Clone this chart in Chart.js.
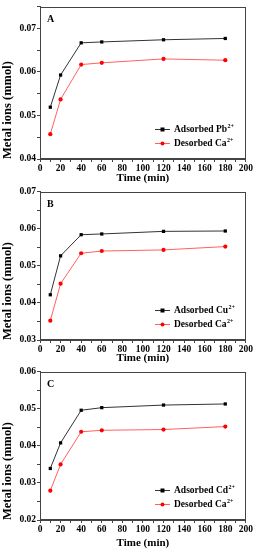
<!DOCTYPE html>
<html>
<head>
<meta charset="utf-8">
<script src="https://cdn.jsdelivr.net/npm/chart.js@4.4.0/dist/chart.umd.min.js"></script>
<style>
  body { margin: 0; background: #fff; width: 254px; height: 550px; overflow: hidden; position: relative; }
  .panel { position: absolute; left: 0; width: 254px; }
</style>
</head>
<body>
<div class="panel" style="top:0;height:185px"><canvas id="chartA"></canvas></div>
<div class="panel" style="top:185px;height:180px"><canvas id="chartB"></canvas></div>
<div class="panel" style="top:365px;height:185px"><canvas id="chartC"></canvas></div>
<script>
// time points (min)
const times = [10, 20, 40, 60, 120, 180];

// A: Pb / Ca
const pbAdsorbed  = [0.0519, 0.0593, 0.0667, 0.0669, 0.0674, 0.0677];
const caDesorbedA = [0.0457, 0.0537, 0.0617, 0.0621, 0.0630, 0.0627];
// B: Cu / Ca
const cuAdsorbed  = [0.0422, 0.0527, 0.0584, 0.0586, 0.0593, 0.0594];
const caDesorbedB = [0.0352, 0.0452, 0.0534, 0.0540, 0.0543, 0.0552];
// C: Cd / Ca
const cdAdsorbed  = [0.0339, 0.0408, 0.0496, 0.0503, 0.0510, 0.0513];
const caDesorbedC = [0.0279, 0.0350, 0.0438, 0.0442, 0.0444, 0.0452];

const yRangeA = [0.04, 0.075];
const yRangeB = [0.03, 0.07];
const yRangeC = [0.02, 0.06];

const FONT = '"Liberation Serif", "Times New Roman", serif';
const AXIS = '#444';

const panelDecor = {
  id: 'panelDecor',
  afterDraw(chart, args, opts) {
    const { ctx, chartArea: a } = chart;
    ctx.save();
    // box
    ctx.strokeStyle = AXIS;
    ctx.lineWidth = 1;
    ctx.strokeRect(Math.round(a.left) + 0.5, Math.round(a.top) + 0.5,
                   Math.round(a.right - a.left) - 1, Math.round(a.bottom - a.top) - 1);
    // panel letter
    ctx.fillStyle = '#000';
    ctx.font = 'bold 10px ' + FONT;
    ctx.textBaseline = 'alphabetic';
    ctx.fillText(opts.letter, a.left + 7, a.top + 15);
    // legend
    chart.data.datasets.forEach((ds, i) => {
      const y = a.bottom - 30 + i * 14;
      ctx.strokeStyle = ds.borderColor;
      ctx.lineWidth = 1;
      ctx.beginPath();
      ctx.moveTo(155, y + 0.5);
      ctx.lineTo(170, y + 0.5);
      ctx.stroke();
      ctx.fillStyle = ds.pointBackgroundColor;
      if (ds.pointStyle === 'rect') {
        ctx.fillRect(160.5, y - 1.5, 4, 4);
      } else {
        ctx.beginPath();
        ctx.arc(162.5, y + 0.5, 2, 0, Math.PI * 2);
        ctx.fill();
      }
      ctx.fillStyle = '#000';
      ctx.font = 'bold 9.5px ' + FONT;
      ctx.textBaseline = 'middle';
      ctx.fillText(ds.legendText[0], 174, y + 1);
      const w = ctx.measureText(ds.legendText[0]).width;
      ctx.font = 'bold 6px ' + FONT;
      ctx.fillText(ds.legendText[1], 174 + w + 0.5, y - 2.5);
    });
    ctx.restore();
  }
};

function makePanel(id, letter, metal, adsorbed, desorbed, yRange, areaTop, areaBottom) {
  const canvas = document.getElementById(id);
  const h = canvas.parentNode.clientHeight;
  return new Chart(canvas, {
    type: 'line',
    data: {
      datasets: [
        {
          label: 'Adsorbed ' + metal + '2+',
          legendText: ['Adsorbed ' + metal, '2+'],
          data: times.map((t, i) => ({ x: t, y: adsorbed[i] })),
          borderColor: '#333',
          borderWidth: 1,
          pointStyle: 'rect',
          pointRadius: 2.3,
          pointBackgroundColor: '#000',
          pointBorderColor: '#000',
          pointBorderWidth: 0,
          tension: 0
        },
        {
          label: 'Desorbed Ca2+',
          legendText: ['Desorbed Ca', '2+'],
          data: times.map((t, i) => ({ x: t, y: desorbed[i] })),
          borderColor: '#ff6060',
          borderWidth: 1,
          pointStyle: 'circle',
          pointRadius: 2.1,
          pointBackgroundColor: '#ff0000',
          pointBorderColor: '#ff0000',
          pointBorderWidth: 0,
          tension: 0
        }
      ]
    },
    options: {
      responsive: true,
      maintainAspectRatio: false,
      animation: false,
      clip: false,
      layout: { padding: { left: 0, right: 8, top: areaTop, bottom: 0 } },
      plugins: {
        legend: { display: false },
        tooltip: { enabled: false },
        panelDecor: { letter: letter }
      },
      scales: {
        x: {
          type: 'linear',
          min: 0,
          max: 200,
          afterFit: s => { s.height = h - areaBottom; },
          grid: { drawOnChartArea: false, drawTicks: true, tickLength: 3, color: AXIS },
          border: { color: AXIS, width: 1 },
          ticks: {
            stepSize: 10,
            autoSkip: false,
            maxRotation: 0,
            padding: 1,
            color: '#000',
            font: { family: FONT, size: 9.5, weight: 'bold' },
            callback: v => (v % 20 === 0 ? v : '')
          },
          title: {
            display: true,
            text: 'Time (min)',
            color: '#000',
            font: { family: FONT, size: 11, weight: 'bold' },
            padding: { top: 0, bottom: 0 }
          }
        },
        y: {
          min: yRange[0],
          max: yRange[1],
          afterFit: s => { s.width = 40; },
          grid: { drawOnChartArea: false, drawTicks: true, tickLength: 3, color: AXIS },
          border: { color: AXIS, width: 1 },
          ticks: {
            stepSize: 0.005,
            autoSkip: false,
            padding: 1,
            color: '#000',
            font: { family: FONT, size: 9.5, weight: 'bold' },
            callback: v => (Math.abs(v * 100 - Math.round(v * 100)) < 1e-6 ? v.toFixed(2) : '')
          },
          title: {
            display: true,
            text: 'Metal ions (mmol)',
            align: 'start',
            color: '#000',
            font: { family: FONT, size: 12.5, weight: 'bold' },
            padding: { top: 0, bottom: 0 }
          }
        }
      }
    },
    plugins: [panelDecor]
  });
}

makePanel('chartA', 'A', 'Pb', pbAdsorbed, caDesorbedA, yRangeA, 6, 159);
makePanel('chartB', 'B', 'Cu', cuAdsorbed, caDesorbedB, yRangeB, 2, 155);
makePanel('chartC', 'C', 'Cd', cdAdsorbed, caDesorbedC, yRangeC, 5, 155);
</script>
</body>
</html>
